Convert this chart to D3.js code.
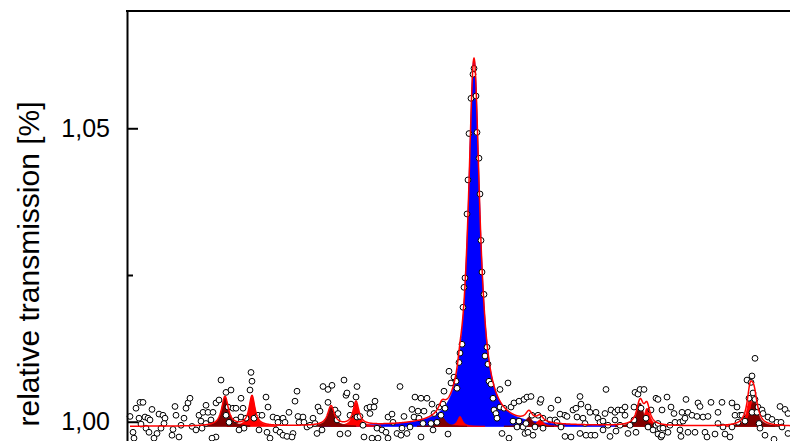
<!DOCTYPE html>
<html lang="en">
<head>
<meta charset="UTF-8">
<title>relative transmission</title>
<script src="https://d3js.org/d3.v7.min.js"></script>
<style>
  html, body { margin: 0; padding: 0; background: #fff; }
  svg { display: block; font-family: "Liberation Sans", Arial, sans-serif; }
  .axis path, .axis line { stroke: #000; stroke-width: 2px; }
  .axis text { font-size: 25px; fill: #000; }
  .point { fill: #fff; stroke: #000; stroke-width: 1px; }
  .fit { fill: none; stroke: #f00; stroke-width: 1.5px; }
  .ylabel { font-size: 30px; fill: #000; }
</style>
</head>
<body>
<div id="chart"></div>
<script>
// measured points: [channel, relative transmission]
const samples = [
  [3,1.0009],[9,1.0023],[13,1.0033],[16,1.0033],[12,1.0006],[18,1.0008],[21,1.0006],[23,1.0003],[25,1.0021],
  [6,0.9982],[7,0.9972],[14,0.9996],[19,0.9989],[22,0.9982],[30,0.9980],[27,0.9972],[32,1.0013],[36,1.0011],
  [38,1.0006],[37,0.9997],[34,0.9989],[46,0.9987],[45,0.9977],[48,1.0026],[49,1.0011],[52,0.9974],[57,1.0006],
  [54,0.9994],[59,1.0023],[61,1.0032],[63,1.0040],[65,0.9992],[72,1.0011],[76,1.0016],[79,1.0028],[81,1.0016],
  [74,1.0001],[79,0.9997],[84,1.0003],[69,0.9986],[75,0.9989],[86,1.0016],[89,1.0032],[92,1.0037],[94,1.0071],
  [99,1.0050],[104,1.0054],[101,1.0025],[106,1.0023],[109,1.0023],[114,1.0040],[116,1.0023],[89,0.9974],
  [85,0.9972],[109,1.0003],[114,1.0008],[117,0.9989],[112,0.9986],[124,1.0084],[125,1.0069],[123,1.0054],
  [119,1.0006],[127,1.0006],[131,1.0011],[132,0.9986],[99,1.0011],[102,0.9999],
  [135,1.0011],[139,1.0042],[141,1.0025],[146,1.0008],[150,1.0006],[151,0.9999],[156,1.0006],[158,0.9999],
  [140,0.9982],[143,0.9972],[149,0.9986],[153,0.9982],[156,0.9977],[160,0.9975],[166,0.9980],[165,0.9974],
  [162,1.0016],[168,1.0035],[170,1.0052],[171,1.0009],[176,1.0008],[172,0.9999],[177,0.9999],[180,0.9991],
  [183,0.9994],[186,1.0006],[188,0.9997],[190,0.9980],[195,0.9986],[191,1.0025],[193,1.0018],[196,1.0060],
  [201,1.0055],[205,1.0062],[201,1.0033],[208,1.0020],[211,1.0014],[210,1.0003],[213,0.9979],[221,0.9980],
  [217,1.0071],[219,1.0045],[220,1.0049],[224,1.0030],[223,1.0011],[230,1.0060],[229,1.0042],[230,1.0008],
  [233,1.0009],[236,0.9994],[237,0.9974],[240,1.0023],[243,1.0025],[247,1.0025],[248,1.0035],[243,1.0014],
  [245,0.9972],[251,0.9972],[250,0.9989],[255,0.9986],[259,0.9982],[261,0.9972],[261,1.0008],[265,1.0013],
  [266,0.9999],
  [270,0.9980],[273,1.0060],[274,0.9977],[275,0.9989],[277,1.0009],[280,0.9980],[283,0.9991],[285,1.0021],
  [287,1.0008],[288,1.0042],[291,1.0018],[292,1.0006],[294,1.0040],[294,0.9974],[296,0.9997],[297,1.0018],
  [300,1.0040],[304,0.9997],[305,1.0030],[306,0.9986],[307,1.0014],[310,0.9999],[312,1.0025],[314,1.0011],
  [316,1.0030],[317,1.0052],[318,1.0023],[321,0.9979],[322,1.0086],[324,1.0066],[327,1.0076],[329,1.0069],
  [330,1.0057],[332,1.0101],[333,1.0117],[335,1.0132],[336,1.0195],[337,1.0229],[338,1.0245],[340,1.0354],
  [341,1.0412],[342,1.0491],[344,1.0551],[346,1.0592],[347,1.0602],[349,1.0555],[350,1.0493],[352,1.0449],
  [353,1.0388],[354,1.0309],[355,1.0255],[357,1.0217],[358,1.0112],[360,1.0127],[361,1.0098],[362,1.0069],
  [364,1.0064],[366,1.0040],[367,1.0020],[369,1.0014],[370,1.0006],[373,1.0055],[373,1.0025],[375,0.9980],
  [377,1.0023],[381,1.0066],[382,0.9972],[384,1.0025],[386,1.0001],[387,1.0032],[390,0.9991],[392,1.0035],
  [392,1.0001],[396,0.9991],[397,1.0038],[398,0.9980],[399,0.9997],[400,1.0042],
  [401,0.9982],[404,1.0043],[405,1.0011],[406,0.9977],[408,0.9991],[411,1.0011],[413,1.0033],[414,1.0038],
  [416,1.0006],[416,0.9989],[423,1.0003],[424,1.0023],[428,1.0003],[430,0.9999],[431,1.0037],[433,1.0013],
  [434,0.9991],[438,1.0011],[438,0.9975],[440,1.0009],[444,0.9974],[446,1.0020],[449,1.0023],[450,1.0008],
  [453,1.0043],[453,0.9980],[454,1.0030],[456,1.0006],[458,0.9997],[459,0.9977],[461,1.0025],[463,1.0016],
  [464,0.9977],[468,0.9977],[469,1.0016],[471,1.0006],[473,0.9999],[476,1.0001],[476,0.9986],[478,1.0014],
  [479,1.0055],[481,0.9994],[483,0.9975],[484,1.0020],[488,1.0016],[488,1.0003],[489,0.9984],[491,1.0020],
  [493,0.9994],[495,1.0020],[498,1.0025],[498,1.0011],[501,0.9980],[503,0.9994],[507,1.0003],[507,1.0025],
  [508,1.0050],[509,0.9982],[511,1.0047],[513,1.0055],[514,1.0023],[517,1.0055],[519,1.0006],[521,0.9991],
  [524,1.0020],[526,0.9986],[529,1.0040],[529,0.9994],[531,0.9979],[533,0.9989],[534,0.9974],
  [531,1.0038],[531,0.9997],[535,1.0020],[535,0.9977],[536,0.9989],[540,1.0042],[541,0.9982],[543,0.9994],
  [544,1.0025],[547,1.0014],[548,0.9999],[553,0.9999],[553,0.9986],[554,0.9975],[555,1.0016],[556,1.0001],
  [558,1.0006],[559,1.0038],[561,1.0016],[561,0.9982],[565,1.0011],[568,0.9982],[570,1.0009],[571,1.0032],
  [573,1.0026],[576,1.0008],[578,0.9982],[580,0.9974],[581,1.0009],[584,1.0033],[588,0.9979],[591,1.0016],
  [591,0.9997],[595,1.0033],[596,0.9991],[598,0.9979],[603,0.9974],[605,1.0032],[605,0.9991],[608,1.0011],
  [610,1.0025],[611,0.9999],[613,1.0011],[615,1.0011],[618,1.0001],[620,1.0071],[622,1.0040],[624,1.0067],
  [625,1.0078],[625,1.0016],[626,1.0049],[628,1.0108],[628,1.0038],[630,1.0016],[631,1.0025],[632,0.9997],
  [633,0.9989],[635,1.0020],[636,1.0014],[638,0.9977],[641,1.0008],[645,1.0004],[647,0.9970],[650,0.9999],
  [653,1.0026],[654,0.9999],[655,0.9991],[658,1.0021],[661,1.0014],[661,0.9980]
];

// fitted Lorentz components on a constant baseline
const baseline   = 0.9992;
const peakKind   = ["main", "a", "b", "a", "b", "a", "b", "a", "b", "a", "b", "b", "a"];
const peakCenter = [347, 98, 125, 204, 229, 315, 333, 402, 413, 513, 520, 623, 627];
const peakHeight = [0.0626, 0.0050, 0.0051, 0.0033, 0.0040, 0.0016, 0.0017, 0.0016, 0.0011, 0.0040, 0.0031, 0.0050, 0.0048];
const peakWidth  = [7, 4, 3.5, 4, 3.5, 4, 3, 4, 4, 4, 3.5, 3.5, 4];

const yMajorTicks = [1.00, 1.05];
const yMinorTicks = [1.025];

const width = 790, height = 441;
const x = d3.scaleLinear().domain([0, 700]).range([127, 827]);
const y = d3.scaleLinear().domain([0.996, 1.07]).range([445.2, 10.9]);

const kindColor = { main: "#0000ff", a: "#800000", b: "#ff0000" };
const kindOrder = { main: 0, b: 1, a: 2 };
const kindSpan  = { main: 155, a: 25, b: 25 };

const lorentz = (c, h, w) => t => h / (1 + ((t - c) / w) ** 2);

const peaks = peakKind.map((k, i) => ({
  kind: k,
  f: lorentz(peakCenter[i], peakHeight[i], peakWidth[i]),
  c: peakCenter[i]
})).sort((p, q) => kindOrder[p.kind] - kindOrder[q.kind]);

const fitX = d3.range(3, 700.01, 0.25);
const fitData = fitX.map(t => [t, baseline + d3.sum(peaks, p => p.f(t))]);

const svg = d3.select("#chart").append("svg")
  .attr("width", width)
  .attr("height", height);

// peak areas
const area = d3.area()
  .x(d => x(d[0]))
  .y0(y(baseline))
  .y1(d => y(baseline + d[1]));

svg.append("g").selectAll("path")
  .data(peaks)
  .enter().append("path")
  .attr("d", p => area(d3.range(p.c - kindSpan[p.kind], p.c + kindSpan[p.kind] + 0.01, 0.25).map(t => [t, p.f(t)])))
  .attr("fill", p => kindColor[p.kind])
  .attr("stroke", p => kindColor[p.kind])
  .attr("stroke-width", 1);

// data points
svg.append("g").selectAll("circle")
  .data(samples)
  .enter().append("circle")
  .attr("class", "point")
  .attr("cx", d => x(d[0]))
  .attr("cy", d => y(d[1]))
  .attr("r", 2.9);

// total fit
svg.append("path")
  .datum(fitData)
  .attr("class", "fit")
  .attr("d", d3.line().x(d => x(d[0])).y(d => y(d[1])));

// axes
const fmt = d3.formatLocale({ decimal: ",", thousands: ".", grouping: [3], currency: ["", ""] }).format(".2f");

svg.append("g")
  .attr("class", "axis")
  .attr("transform", `translate(${x(0)},0)`)
  .call(d3.axisLeft(y).tickValues(yMajorTicks).tickFormat(fmt)
    .tickSizeInner(-11).tickSizeOuter(0).tickPadding(17));

svg.append("g")
  .attr("class", "axis")
  .attr("transform", `translate(${x(0)},0)`)
  .call(d3.axisLeft(y).tickValues(yMinorTicks).tickFormat("")
    .tickSizeInner(-6).tickSizeOuter(0))
  .select(".domain").remove();

svg.append("line")
  .attr("x1", x(0) - 1).attr("x2", x(700))
  .attr("y1", y(1.07)).attr("y2", y(1.07))
  .attr("stroke", "#000").attr("stroke-width", 2);

svg.append("text")
  .attr("class", "ylabel")
  .attr("transform", "translate(38.5,264) rotate(-90)")
  .attr("text-anchor", "middle")
  .text("relative transmission [%]");
</script>
</body>
</html>
